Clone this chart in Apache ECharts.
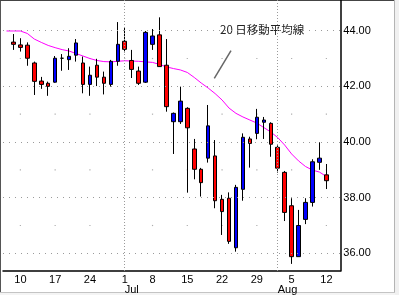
<!DOCTYPE html>
<html><head><meta charset="utf-8">
<script src="https://cdn.jsdelivr.net/npm/echarts@6/dist/echarts.min.js"></script>
<style>html,body{margin:0;padding:0;background:#fff}#c{width:399px;height:295px}</style>
</head><body><div id="c"></div>
<script>
// trading days (first day only carries the moving average)
const days = ['6/6','6/7','6/10','6/11','6/12','6/13','6/14','6/17','6/18','6/19','6/20','6/21',
  '6/24','6/25','6/26','6/27','6/28','7/1','7/2','7/3','7/5','7/8','7/9','7/10','7/11','7/12',
  '7/15','7/16','7/17','7/18','7/19','7/22','7/23','7/24','7/25','7/26','7/29','7/30','7/31',
  '8/1','8/2','8/5','8/6','8/7','8/8','8/9','8/12'];
const openV = [null,43.59,43.49,43.48,42.84,42.19,42.11,42.15,43.01,42.96,43.12,42.84,42.07,42.76,42.33,42.07,42.90,
  43.62,42.93,42.55,42.15,43.51,43.85,42.76,40.73,40.73,41.21,39.75,39.02,39.42,39.50,37.94,37.98,36.20,38.30,40.11,
  40.31,40.71,40.67,39.81,38.91,37.71,35.88,37.22,37.83,39.27,38.82];
const closeV = [null,43.51,43.40,43.01,42.18,42.07,42.00,43.01,43.01,43.08,43.56,42.07,42.40,42.33,42.11,42.90,43.51,
  43.33,42.61,42.11,43.94,43.81,42.71,41.27,41.03,41.47,40.51,39.02,38.54,40.58,37.89,37.50,36.43,38.37,40.17,39.95,
  40.89,40.79,39.92,39.06,37.47,35.88,37.00,37.83,39.29,39.42,38.61];
const lowV = [null,43.31,43.25,42.74,41.69,41.91,41.66,42.13,42.56,42.59,42.89,41.75,41.66,42.01,41.71,41.99,42.74,
  43.22,42.30,42.05,42.12,43.31,42.70,41.09,39.57,40.65,38.18,38.66,38.04,39.26,37.62,36.66,36.34,36.06,37.89,39.08,
  40.10,40.11,39.47,38.90,37.16,35.62,35.88,37.05,37.68,39.00,38.31];
const highV = [null,43.88,43.73,43.58,42.89,42.34,42.17,43.09,43.16,43.37,43.70,43.07,42.71,42.99,42.53,42.95,44.31,
  44.13,43.31,42.71,43.99,44.06,44.48,43.70,41.06,41.99,41.25,40.11,39.07,41.33,40.07,38.10,38.19,38.46,40.31,40.19,
  41.19,40.90,40.71,39.88,38.96,37.98,37.56,37.98,39.38,39.99,39.21];
const ma20 = [43.99,43.99,43.99,43.90,43.70,43.58,43.47,43.39,43.32,43.27,43.18,43.09,43.00,42.93,42.89,42.88,42.90,
  42.92,42.91,42.90,42.88,42.86,42.79,42.70,42.64,42.59,42.50,42.32,42.12,41.94,41.74,41.51,41.22,41.03,40.90,40.79,
  40.68,40.52,40.36,40.16,39.89,39.57,39.32,39.12,38.99,38.92,38.76];
// tick labels
const weekTickDays = ['6/10','6/17','6/24','7/1','7/8','7/15','7/22','7/29','8/5','8/12'];
const weekTickLabels = ['10','17','24','1','8','15','22','29','5','12'];
const monthTickDays = ['7/1','8/1'];
const monthTickLabels = ['Jul','Aug'];
const majorPriceTicks = [36,38,40,42,44];
const minorPriceTicks = [37,39,41,43];
const maLabel = '20 日移動平均線';

const weekPos = weekTickDays.map(d => days.indexOf(d));
const monthPos = monthTickDays.map(d => days.indexOf(d));
const candles = [];
days.forEach((d, k) => { if (openV[k] != null) candles.push([k, openV[k], closeV[k], lowV[k], highV[k]]); });
const maData = ma20.map((v, k) => [k, v]);
const dots = [];
weekPos.forEach(k => minorPriceTicks.forEach(v => dots.push([k, v])));

const font = 'Liberation Sans';
const chart = echarts.init(document.getElementById('c'));
chart.setOption({
  animation: false,
  backgroundColor: '#fff',
  grid: { left: 0.8, right: 58.7, top: 0, bottom: 24, containLabel: false },
  xAxis: [{
    type: 'value', min: -0.5, max: days.length + 1, interval: 0.5,
    axisLine: { show: true, onZero: false, lineStyle: { color: '#000', width: 1.5 } },
    axisTick: { show: false }, splitLine: { show: false },
    axisLabel: { margin: 3, fontSize: 11, fontFamily: font, color: '#000', showMinLabel: true, showMaxLabel: false,
      formatter: v => { const i = weekPos.indexOf(v); return i >= 0 ? weekTickLabels[i] : ''; } }
  }, {
    type: 'value', min: -0.5, max: days.length + 1, interval: 0.5, position: 'bottom', offset: 0,
    axisLine: { show: false, onZero: false }, axisTick: { show: false }, splitLine: { show: false },
    axisLabel: { margin: 13, fontSize: 11, fontFamily: font, color: '#000', align: 'left',
      formatter: v => { const i = monthPos.indexOf(v); return i >= 0 ? monthTickLabels[i] : ''; } }
  }],
  yAxis: {
    type: 'value', position: 'right', min: 35.365, max: 45.103, splitNumber: 10, scale: true,
    axisLine: { show: true, onZero: false, lineStyle: { color: '#000', width: 1.5 } },
    axisTick: { show: false }, splitLine: { show: false },
    axisLabel: { margin: 3, fontSize: 11, fontFamily: font, color: '#000', showMinLabel: false, showMaxLabel: false,
      formatter: v => majorPriceTicks.indexOf(v) >= 0 ? v.toFixed(2) : '' }
  },
  series: [{
    type: 'line', data: maData, symbol: 'none', smooth: false,
    lineStyle: { color: '#ff00ff', width: 1 }, z: 2,
    markLine: {
      silent: true, symbol: 'none', label: { show: false },
      data: majorPriceTicks.map(v => ({ yAxis: v, lineStyle: { color: '#9a9a9a', type: [1, 5], width: 1 } }))
        .concat(monthPos.map(k => ({ xAxis: k, lineStyle: { color: '#9a9a9a', type: [1, 2], width: 1 } })))
    }
  }, {
    type: 'scatter', data: dots, symbol: 'rect', symbolSize: 1.2, itemStyle: { color: '#9a9a9a' }, z: 1, silent: true
  }, {
    type: 'candlestick', data: candles, encode: { x: 0, y: [1, 2, 3, 4] }, barWidth: 4, z: 3,
    itemStyle: { color: '#0000ff', color0: '#ff0000', borderColor: '#000', borderColor0: '#000',
      borderColorDoji: '#000', borderWidth: 1 }
  }],
  graphic: [
    { type: 'line', shape: { x1: 0.5, y1: 0, x2: 0.5, y2: 292 }, style: { stroke: '#555', lineWidth: 1 } },
    { type: 'line', shape: { x1: 0, y1: 0.5, x2: 394, y2: 0.5 }, style: { stroke: '#444', lineWidth: 1 } },
    { type: 'line', shape: { x1: 394.5, y1: 0, x2: 394.5, y2: 295 }, style: { stroke: '#b4b4b4', lineWidth: 1 } },
    { type: 'rect', shape: { x: 395, y: 0, width: 4, height: 295 }, style: { fill: '#f0f0f0' } },
    { type: 'line', shape: { x1: 0, y1: 292.5, x2: 395, y2: 292.5 }, style: { stroke: '#c4c4c4', lineWidth: 1 } },
    { type: 'rect', shape: { x: 0, y: 293, width: 395, height: 2 }, style: { fill: '#f4f4f4' } },
    { type: 'text', x: 220, y: 29.5, style: { text: maLabel, font: '11.5px "Noto Sans CJK JP"', fill: '#222', verticalAlign: 'middle' } },
    { type: 'line', shape: { x1: 214.3, y1: 78.3, x2: 231, y2: 50.7 }, style: { stroke: '#666', lineWidth: 1.5 } }
  ]
});
</script></body></html>
